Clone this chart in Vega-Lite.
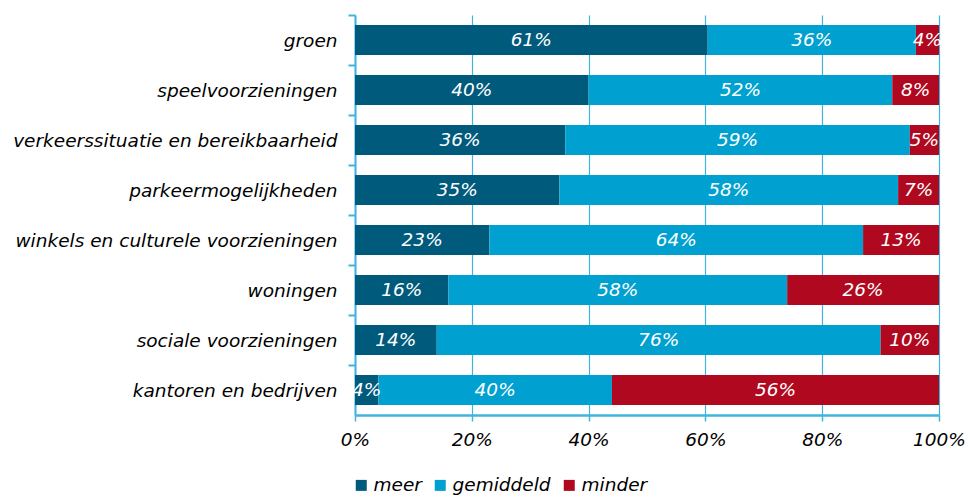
{
  "$schema": "https://vega.github.io/schema/vega-lite/v6.json",
  "width": 584,
  "height": 400,
  "autosize": "none",
  "padding": {"left": 355, "top": 15, "right": 29, "bottom": 81},
  "background": "white",
  "config": {
    "view": {"stroke": null},
    "font": "DejaVu Sans"
  },
  "data": {
    "values": [
      {"cat": "groen", "reeks": "meer", "order": 1, "v": 0.61},
      {"cat": "groen", "reeks": "gemiddeld", "order": 2, "v": 0.36},
      {"cat": "groen", "reeks": "minder", "order": 3, "v": 0.04},
      {"cat": "speelvoorzieningen", "reeks": "meer", "order": 1, "v": 0.40},
      {"cat": "speelvoorzieningen", "reeks": "gemiddeld", "order": 2, "v": 0.52},
      {"cat": "speelvoorzieningen", "reeks": "minder", "order": 3, "v": 0.08},
      {"cat": "verkeerssituatie en bereikbaarheid", "reeks": "meer", "order": 1, "v": 0.36},
      {"cat": "verkeerssituatie en bereikbaarheid", "reeks": "gemiddeld", "order": 2, "v": 0.59},
      {"cat": "verkeerssituatie en bereikbaarheid", "reeks": "minder", "order": 3, "v": 0.05},
      {"cat": "parkeermogelijkheden", "reeks": "meer", "order": 1, "v": 0.35},
      {"cat": "parkeermogelijkheden", "reeks": "gemiddeld", "order": 2, "v": 0.58},
      {"cat": "parkeermogelijkheden", "reeks": "minder", "order": 3, "v": 0.07},
      {"cat": "winkels en culturele voorzieningen", "reeks": "meer", "order": 1, "v": 0.23},
      {"cat": "winkels en culturele voorzieningen", "reeks": "gemiddeld", "order": 2, "v": 0.64},
      {"cat": "winkels en culturele voorzieningen", "reeks": "minder", "order": 3, "v": 0.13},
      {"cat": "woningen", "reeks": "meer", "order": 1, "v": 0.16},
      {"cat": "woningen", "reeks": "gemiddeld", "order": 2, "v": 0.58},
      {"cat": "woningen", "reeks": "minder", "order": 3, "v": 0.26},
      {"cat": "sociale voorzieningen", "reeks": "meer", "order": 1, "v": 0.14},
      {"cat": "sociale voorzieningen", "reeks": "gemiddeld", "order": 2, "v": 0.76},
      {"cat": "sociale voorzieningen", "reeks": "minder", "order": 3, "v": 0.10},
      {"cat": "kantoren en bedrijven", "reeks": "meer", "order": 1, "v": 0.04},
      {"cat": "kantoren en bedrijven", "reeks": "gemiddeld", "order": 2, "v": 0.40},
      {"cat": "kantoren en bedrijven", "reeks": "minder", "order": 3, "v": 0.56}
    ]
  },
  "encoding": {
    "y": {
      "field": "cat",
      "type": "nominal",
      "sort": null,
      "title": null,
      "scale": {"paddingInner": 0.4, "paddingOuter": 0.2},
      "axis": {
        "labelFont": "DejaVu Sans",
        "labelFontStyle": "italic",
        "labelFontSize": 18.5,
        "labelColor": "#000000",
        "labelPadding": 11,
        "labelLimit": 400,
        "tickSize": 7,
        "tickColor": "#3fb4df",
        "tickWidth": 2,
        "domainColor": "#3fb4df",
        "domainWidth": 2,
        "bandPosition": 0,
        "tickOffset": -10,
        "labelOffset": 10,
        "tickExtra": false,
        "grid": false
      }
    },
    "x": {
      "field": "v",
      "type": "quantitative",
      "stack": "normalize",
      "title": null,
      "scale": {"domain": [0, 1]},
      "axis": {
        "values": [0, 0.2, 0.4, 0.6, 0.8, 1],
        "format": ".0%",
        "labelFont": "DejaVu Sans",
        "labelFontStyle": "italic",
        "labelFontSize": 18.5,
        "labelColor": "#000000",
        "labelFlush": false,
        "labelPadding": 9,
        "tickSize": 6,
        "tickColor": "#3fb4df",
        "tickWidth": 1.5,
        "domainColor": "#3fb4df",
        "domainWidth": 2.5,
        "grid": true,
        "gridColor": "#3fb4df",
        "gridWidth": 1.2,
        "gridOpacity": 1
      }
    },
    "order": {"field": "order", "type": "quantitative"}
  },
  "layer": [
    {
      "mark": {"type": "bar", "cornerRadius": 0},
      "encoding": {
        "color": {
          "field": "reeks",
          "type": "nominal",
          "sort": ["meer", "gemiddeld", "minder"],
          "scale": {"domain": ["meer", "gemiddeld", "minder"], "range": ["#005a7c", "#00a1d0", "#b0081e"]},
          "legend": {
            "title": null,
            "orient": "none",
            "legendX": -3,
            "legendY": 461,
            "padding": 0,
            "direction": "horizontal",
            "symbolType": "square",
            "symbolSize": 121,
            "symbolStrokeWidth": 0,
            "labelFont": "DejaVu Sans",
            "labelFontStyle": "italic",
            "labelFontSize": 18.5,
            "labelColor": "#000000",
            "labelOffset": 3,
            "columnPadding": 9
          }
        }
      }
    },
    {
      "mark": {"type": "text", "color": "white", "font": "DejaVu Sans", "fontStyle": "italic", "fontSize": 18.5, "align": "center", "baseline": "middle"},
      "encoding": {
        "x": {"field": "v", "type": "quantitative", "stack": "normalize", "bandPosition": 0.5},
        "text": {"field": "v", "type": "quantitative", "format": ".0%"}
      }
    }
  ]
}
